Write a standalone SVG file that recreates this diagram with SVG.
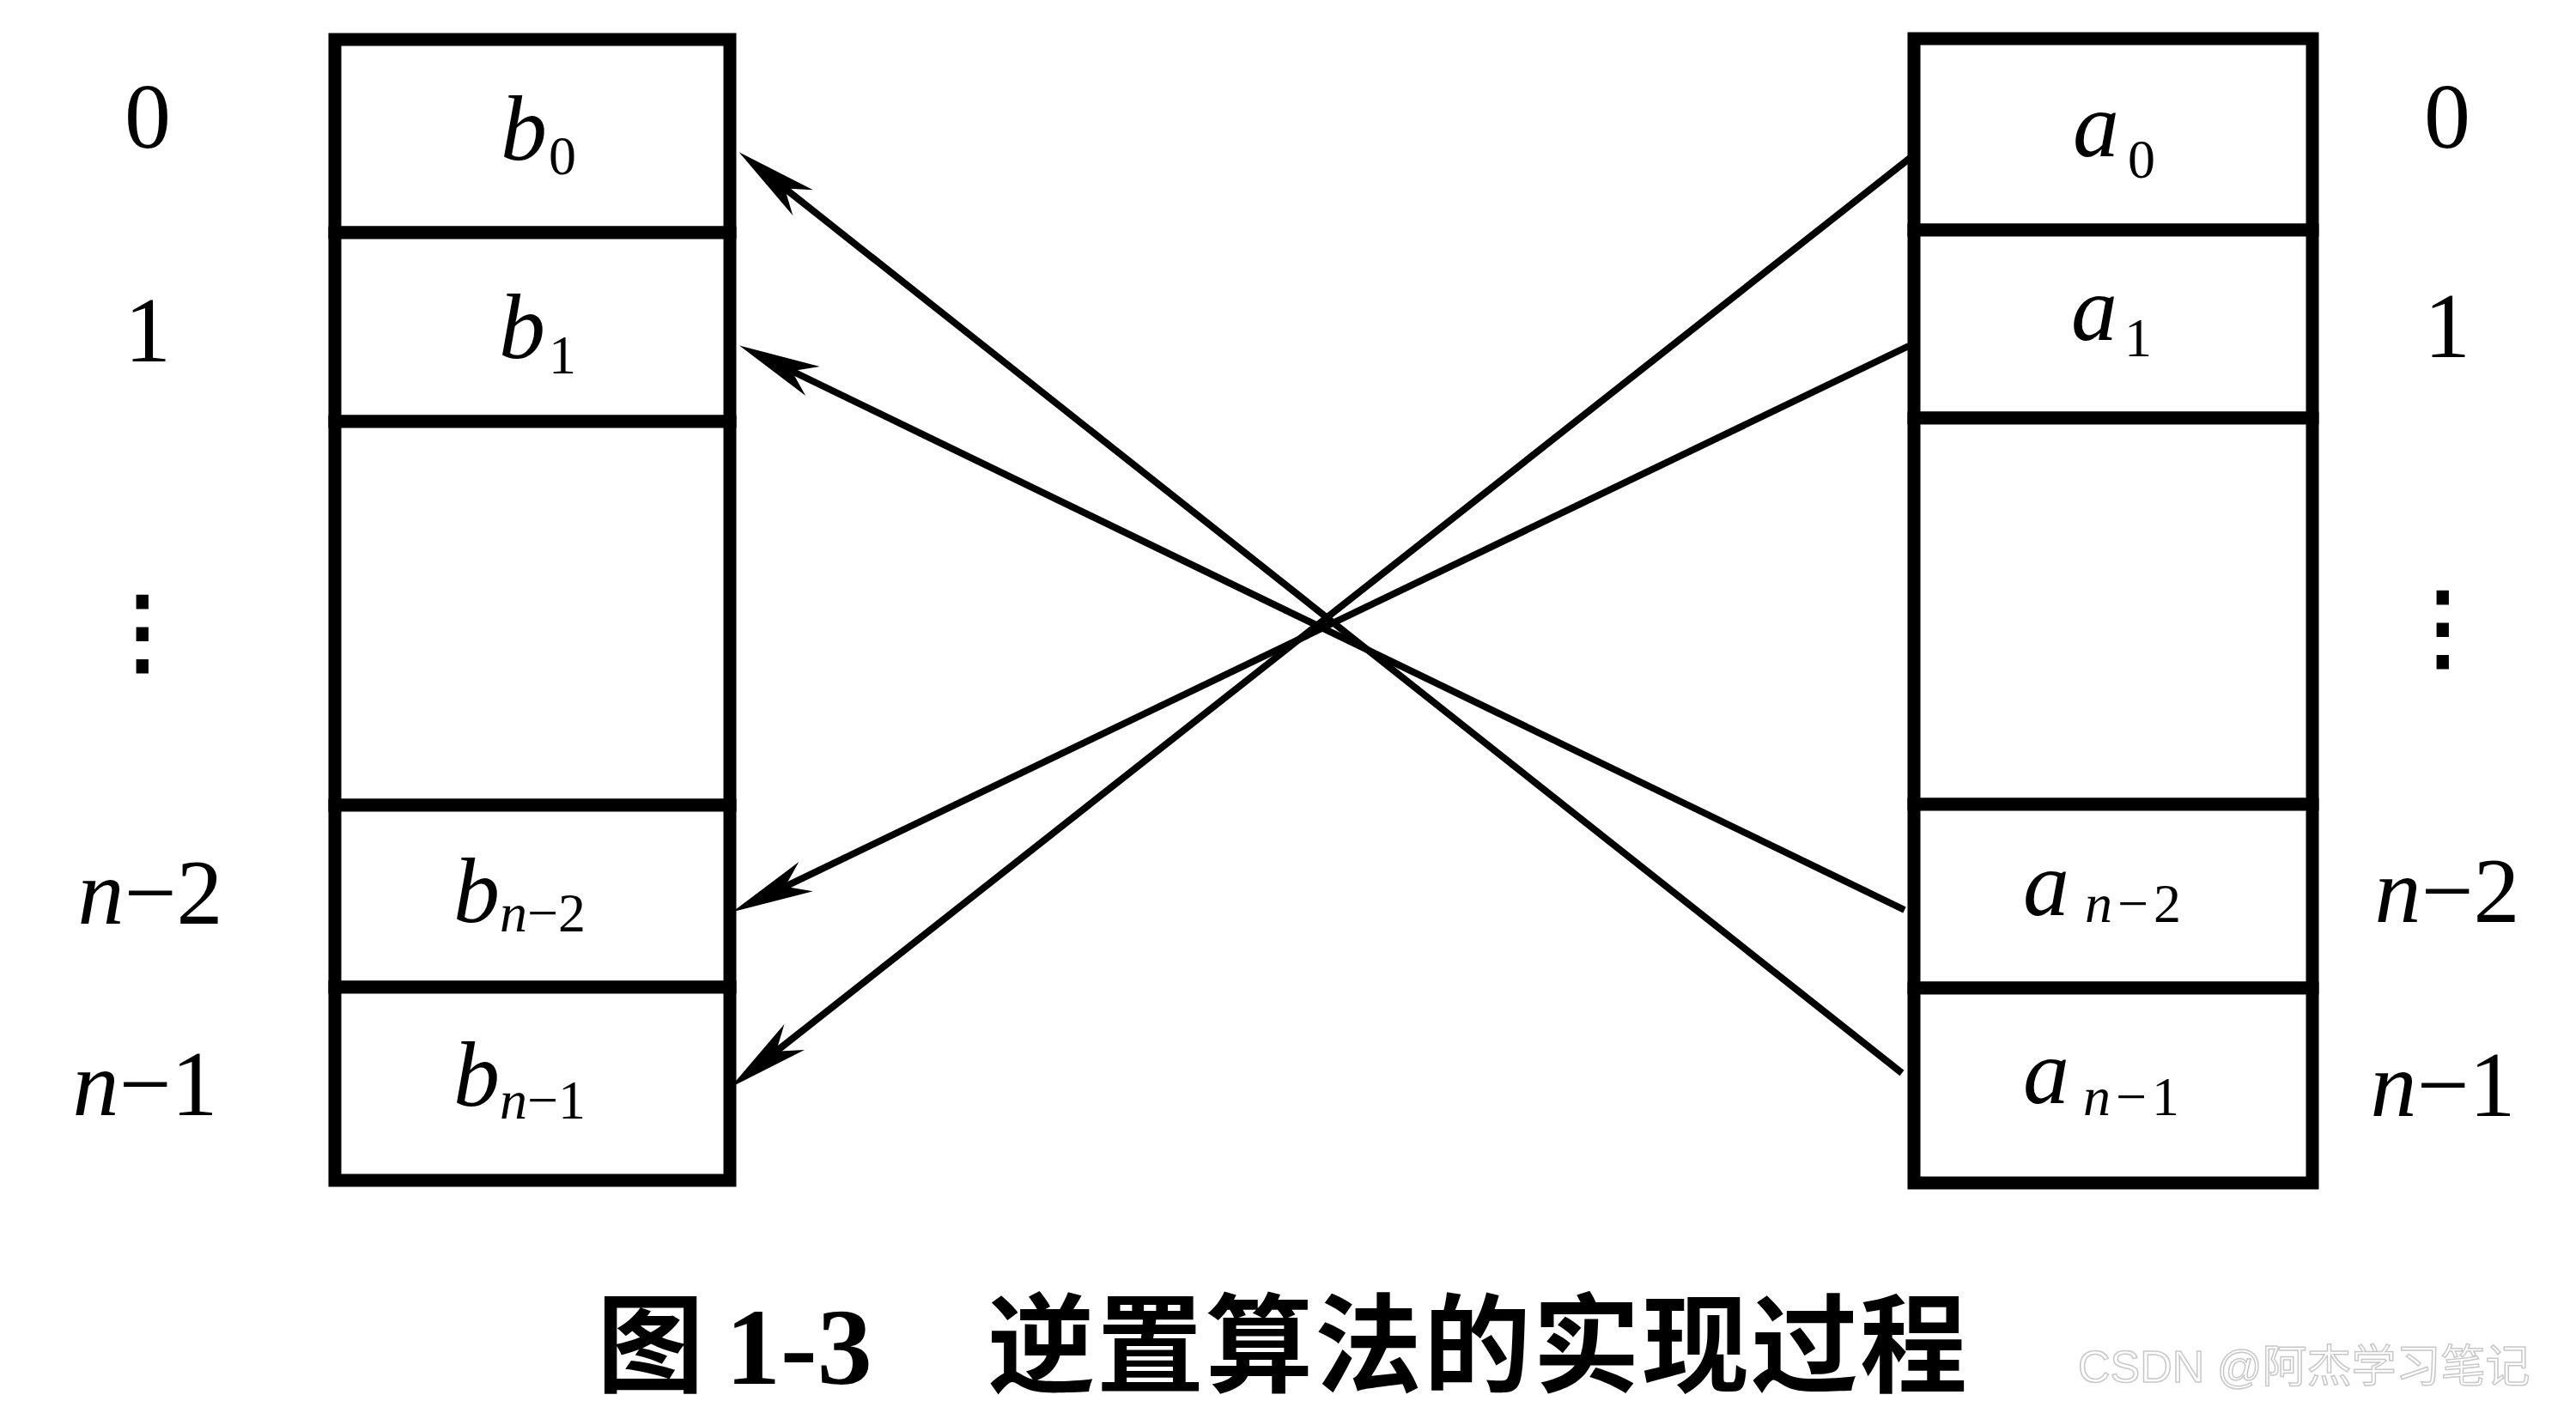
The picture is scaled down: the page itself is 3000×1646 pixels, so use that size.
<svg xmlns="http://www.w3.org/2000/svg" width="3000" height="1646" viewBox="0 0 3000 1646">
<style>
.cell{fill:#fff;stroke:#000;stroke-width:15}
.v{font-family:"Liberation Serif",serif;font-style:italic;font-size:108px;fill:#000}
.s{font-family:"Liberation Serif",serif;font-size:64px;fill:#000}
.lbl{font-family:"Liberation Serif",serif;font-size:108px;fill:#000;text-anchor:middle}
.dots{font-family:"DejaVu Sans",sans-serif;font-size:110px;fill:#000;stroke:#000;stroke-width:3;text-anchor:middle}
.conn{stroke:#000;stroke-width:8;fill:none;marker-end:url(#ah)}
.title{font-family:"Noto Sans CJK SC",sans-serif;font-weight:bold;font-size:125px;fill:#000}
.num{font-family:"Liberation Serif",serif;font-weight:bold;font-size:128px;fill:#000}
.wm{font-family:"Liberation Sans","Noto Sans CJK SC",sans-serif;font-size:52px;fill:#fff;stroke:#c8c8c8;stroke-width:1.5}
</style>
<defs>
<marker id="ah" viewBox="-100 -25 150 50" markerWidth="150" markerHeight="50" refX="-40" refY="0" orient="auto" markerUnits="userSpaceOnUse">
<path d="M0,0 L-95,-19 L-68,0 L-95,19 Z" fill="#000"/>
</marker>
</defs>
<rect width="3000" height="1646" fill="#fff"/>

<g id="left-array">
<g id="b0"><rect class="cell" x="390" y="46" width="460" height="225"/>
<text class="v" x="583" y="186">b<tspan class="s" x="639" y="203" font-style="normal">0</tspan></text></g>
<g id="b1"><rect class="cell" x="390" y="271" width="460" height="220"/>
<text class="v" x="581" y="417">b<tspan class="s" x="639" y="435" font-style="normal">1</tspan></text></g>
<g id="bmid"><rect class="cell" x="390" y="491" width="460" height="447"/></g>
<g id="bn2"><rect class="cell" x="390" y="938" width="460" height="212"/>
<text class="v" x="528" y="1074">b<tspan class="s" x="582" y="1085">n</tspan><tspan class="s" font-style="normal">−2</tspan></text></g>
<g id="bn1"><rect class="cell" x="390" y="1150" width="460" height="225"/>
<text class="v" x="528" y="1288">b<tspan class="s" x="582" y="1303">n</tspan><tspan class="s" font-style="normal">−1</tspan></text></g>
</g>

<g id="right-array">
<g id="a0"><rect class="cell" x="2229" y="45" width="464" height="223"/>
<text class="v" x="2414" y="182">a<tspan class="s" x="2478" y="207" font-style="normal">0</tspan></text></g>
<g id="a1"><rect class="cell" x="2229" y="268" width="464" height="219"/>
<text class="v" x="2412" y="396">a<tspan class="s" x="2474" y="415" font-style="normal">1</tspan></text></g>
<g id="amid"><rect class="cell" x="2229" y="487" width="464" height="450"/></g>
<g id="an2"><rect class="cell" x="2229" y="937" width="464" height="214"/>
<text class="v" x="2356" y="1066">a<tspan class="s" x="2428" y="1074" letter-spacing="6">n</tspan><tspan class="s" font-style="normal" letter-spacing="6">−2</tspan></text></g>
<g id="an1"><rect class="cell" x="2229" y="1151" width="464" height="227"/>
<text class="v" x="2356" y="1285">a<tspan class="s" x="2426" y="1299" letter-spacing="6">n</tspan><tspan class="s" font-style="normal" letter-spacing="6">−1</tspan></text></g>
</g>

<g id="left-labels">
<text class="lbl" x="172" y="172">0</text>
<text class="lbl" x="172" y="421">1</text>
<text class="dots" x="166" y="773">⋮</text>
<text class="lbl" x="175" y="1076"><tspan font-style="italic">n</tspan>−2</text>
<text class="lbl" x="169" y="1299"><tspan font-style="italic">n</tspan>−1</text>
</g>
<g id="right-labels">
<text class="lbl" x="2850" y="172">0</text>
<text class="lbl" x="2850" y="416">1</text>
<text class="dots" x="2845" y="768">⋮</text>
<text class="lbl" x="2850" y="1074"><tspan font-style="italic">n</tspan>−2</text>
<text class="lbl" x="2845" y="1300"><tspan font-style="italic">n</tspan>−1</text>
</g>

<g id="connectors">
<line class="conn" x1="2227" y1="182" x2="882" y2="1242"/>
<line class="conn" x1="2223" y1="403" x2="889" y2="1045"/>
<line class="conn" x1="2218" y1="1060" x2="897" y2="420"/>
<line class="conn" x1="2215" y1="1250" x2="892" y2="202"/>
</g>

<g id="caption">
<text class="title" x="695" y="1612" font-size="118">图</text>
<text class="num" x="845" y="1612">1-3</text>
<text class="title" x="1150" y="1612" letter-spacing="2">逆置算法的实现过程</text>
<text class="wm" x="2420" y="1610">CSDN @阿杰学习笔记</text>
</g>
</svg>
